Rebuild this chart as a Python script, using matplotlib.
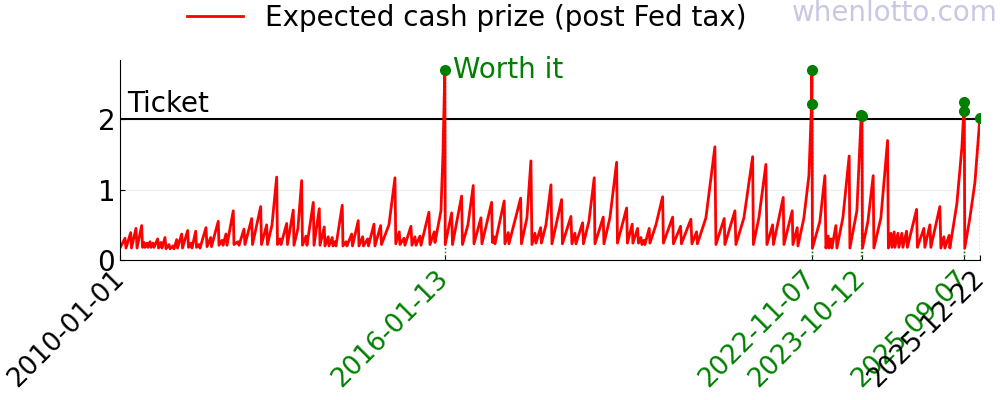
import datetime as dt
import matplotlib
matplotlib.use("Agg")
import matplotlib.pyplot as plt

# expected cash value per $2 ticket (decimal year, value)
years = [
    2010.000, 2010.093, 2010.111, 2010.199, 2010.214, 2010.297, 2010.316, 2010.403,
    2010.418, 2010.446, 2010.464, 2010.501, 2010.520, 2010.557, 2010.576, 2010.613,
    2010.631, 2010.700, 2010.715, 2010.761, 2010.780, 2010.836, 2010.854, 2010.910,
    2010.929, 2010.984, 2011.003, 2011.053, 2011.068, 2011.146, 2011.161, 2011.257,
    2011.272, 2011.318, 2011.337, 2011.406, 2011.421, 2011.467, 2011.486, 2011.597,
    2011.616, 2011.684, 2011.699, 2011.825, 2011.838, 2011.894, 2011.913, 2011.968,
    2011.987, 2012.104, 2012.117, 2012.191, 2012.210, 2012.303, 2012.321, 2012.446,
    2012.461, 2012.613, 2012.628, 2012.724, 2012.739, 2012.823, 2012.910, 2012.925,
    2012.971, 2012.990, 2013.096, 2013.111, 2013.218, 2013.231, 2013.305, 2013.374,
    2013.389, 2013.454, 2013.473, 2013.590, 2013.603, 2013.701, 2013.714, 2013.794,
    2013.807, 2013.868, 2013.881, 2013.942, 2013.955, 2013.993, 2014.011, 2014.128,
    2014.141, 2014.197, 2014.215, 2014.303, 2014.318, 2014.425, 2014.438, 2014.507,
    2014.522, 2014.600, 2014.615, 2014.717, 2014.735, 2014.841, 2014.856, 2014.995,
    2015.107, 2015.122, 2015.187, 2015.200, 2015.274, 2015.292, 2015.404, 2015.422,
    2015.478, 2015.497, 2015.571, 2015.590, 2015.738, 2015.757, 2015.837, 2015.850,
    2015.961, 2015.998, 2016.033, 2016.040, 2016.160, 2016.175, 2016.345, 2016.360,
    2016.462, 2016.561, 2016.574, 2016.704, 2016.722, 2016.902, 2016.917, 2016.945,
    2016.964, 2017.136, 2017.149, 2017.211, 2017.224, 2017.441, 2017.456, 2017.558,
    2017.632, 2017.651, 2017.707, 2017.725, 2017.813, 2017.827, 2017.911, 2018.004,
    2018.022, 2018.202, 2018.217, 2018.375, 2018.394, 2018.449, 2018.468, 2018.592,
    2018.607, 2018.709, 2018.808, 2018.821, 2018.975, 2018.988, 2019.099, 2019.224,
    2019.239, 2019.409, 2019.424, 2019.513, 2019.526, 2019.614, 2019.629, 2019.675,
    2019.694, 2019.731, 2019.749, 2019.829, 2019.842, 2019.954, 2020.078, 2020.093,
    2020.264, 2020.279, 2020.412, 2020.427, 2020.603, 2020.622, 2020.709, 2020.724,
    2020.882, 2021.049, 2021.068, 2021.222, 2021.235, 2021.421, 2021.439, 2021.588,
    2021.750, 2021.764, 2021.866, 2021.996, 2022.015, 2022.121, 2022.136, 2022.318,
    2022.331, 2022.485, 2022.498, 2022.578, 2022.591, 2022.702, 2022.795, 2022.844,
    2022.850, 2022.860, 2022.999, 2023.092, 2023.111, 2023.153, 2023.166, 2023.204,
    2023.222, 2023.296, 2023.315, 2023.426, 2023.543, 2023.556, 2023.686, 2023.766,
    2023.780, 2023.790, 2023.891, 2023.989, 2024.002, 2024.132, 2024.256, 2024.271,
    2024.318, 2024.336, 2024.379, 2024.392, 2024.448, 2024.466, 2024.522, 2024.540,
    2024.609, 2024.624, 2024.795, 2024.810, 2024.930, 2024.949, 2025.042, 2025.060,
    2025.227, 2025.246, 2025.302, 2025.320, 2025.400, 2025.413, 2025.543, 2025.636,
    2025.670, 2025.680, 2025.690, 2025.785, 2025.878, 2025.970,
]
values = [
    0.17, 0.31, 0.17, 0.39, 0.17, 0.45, 0.17, 0.49,
    0.18, 0.25, 0.18, 0.24, 0.18, 0.26, 0.18, 0.24,
    0.18, 0.30, 0.17, 0.25, 0.17, 0.32, 0.16, 0.22,
    0.16, 0.20, 0.16, 0.29, 0.17, 0.37, 0.17, 0.42,
    0.18, 0.24, 0.17, 0.41, 0.18, 0.22, 0.17, 0.46,
    0.19, 0.32, 0.19, 0.55, 0.21, 0.28, 0.21, 0.37,
    0.21, 0.70, 0.22, 0.26, 0.21, 0.44, 0.22, 0.59,
    0.22, 0.76, 0.22, 0.50, 0.22, 0.50, 1.18, 0.22,
    0.30, 0.22, 0.52, 0.22, 0.71, 0.21, 0.45, 1.13,
    0.21, 0.34, 0.21, 0.82, 0.21, 0.73, 0.21, 0.47,
    0.20, 0.33, 0.20, 0.32, 0.20, 0.26, 0.20, 0.78,
    0.20, 0.26, 0.20, 0.37, 0.20, 0.56, 0.20, 0.33,
    0.20, 0.30, 0.20, 0.51, 0.20, 0.49, 0.22, 0.50,
    1.17, 0.23, 0.40, 0.22, 0.31, 0.21, 0.48, 0.21,
    0.33, 0.21, 0.34, 0.21, 0.68, 0.22, 0.40, 0.25,
    0.70, 1.50, 2.71, 0.22, 0.67, 0.22, 0.91, 0.22,
    0.50, 1.06, 0.23, 0.60, 0.23, 0.82, 0.25, 0.33,
    0.23, 0.84, 0.23, 0.39, 0.23, 0.88, 0.23, 0.60,
    1.41, 0.22, 0.38, 0.24, 0.46, 0.24, 0.50, 1.07,
    0.23, 0.86, 0.23, 0.62, 0.23, 0.38, 0.23, 0.53,
    0.23, 0.55, 1.17, 0.23, 0.61, 0.23, 0.60, 1.39,
    0.24, 0.74, 0.24, 0.51, 0.24, 0.45, 0.24, 0.32,
    0.22, 0.28, 0.22, 0.45, 0.24, 0.50, 0.90, 0.24,
    0.61, 0.23, 0.48, 0.23, 0.58, 0.23, 0.40, 0.23,
    0.60, 1.61, 0.22, 0.59, 0.22, 0.70, 0.22, 0.60,
    1.47, 0.22, 0.60, 1.36, 0.22, 0.50, 0.22, 0.89,
    0.22, 0.70, 0.22, 0.46, 0.20, 0.60, 1.20, 2.22,
    2.70, 0.17, 0.55, 1.20, 0.17, 0.34, 0.17, 0.30,
    0.17, 0.49, 0.17, 0.60, 1.48, 0.17, 0.70, 2.06,
    2.05, 0.17, 0.55, 1.20, 0.17, 0.60, 1.70, 0.17,
    0.38, 0.18, 0.40, 0.18, 0.38, 0.18, 0.38, 0.18,
    0.41, 0.18, 0.72, 0.18, 0.45, 0.18, 0.50, 0.18,
    0.76, 0.17, 0.33, 0.17, 0.35, 0.17, 0.80, 1.60,
    2.12, 2.25, 0.17, 0.60, 1.10, 2.02,
]

# drawings where the expected value beat the ticket price
worth_dates = ["2016-01-13", "2022-11-05", "2022-11-07", "2023-10-07",
               "2023-10-12", "2025-09-03", "2025-09-07", "2025-12-22"]
worth_vals = [2.71, 2.22, 2.70, 2.06, 2.05, 2.12, 2.25, 2.02]

tick_dates = ["2010-01-01", "2016-01-13", "2022-11-07", "2023-10-12",
              "2025-09-07", "2025-12-22"]
tick_colors = ["black", "green", "green", "green", "green", "black"]
ticket_price = 2

start = dt.datetime(2010, 1, 1)
x = [start + dt.timedelta(days=(y - 2010) * 365.25) for y in years]
wx = [dt.datetime.strptime(d, "%Y-%m-%d") for d in worth_dates]
tx = [dt.datetime.strptime(d, "%Y-%m-%d") for d in tick_dates]

plt.rcParams["font.family"] = ["DejaVu Sans"]
fig = plt.figure(figsize=(10, 4), dpi=100)
ax = fig.add_axes([0.12, 0.35, 0.86, 0.50])

ax.grid(True, axis="y", color="#eeeeee", lw=1)
ax.set_axisbelow(True)
ax.vlines(wx, 0, worth_vals, colors="green", linestyles=":", lw=1, zorder=1)
ax.plot(x, values, "r-", lw=2, label="Expected cash prize (post Fed tax)", zorder=2)
ax.axhline(ticket_price, color="black", lw=1.5, zorder=1.5)
ax.plot(wx, worth_vals, "o", color="green", ms=7, zorder=3)

ax.text(dt.datetime(2010, 2, 20), 2.02, "Ticket", fontsize=20, va="bottom")
ax.annotate("Worth it", (wx[0], worth_vals[0]), xytext=(6, 0),
            textcoords="offset points", color="green", fontsize=20, va="center")

ax.set_xlim(tx[0], tx[-1])
ax.set_ylim(0, max(worth_vals) * 1.05)
ax.set_yticks([0, 1, 2])
ax.set_xticks(tx)
ax.set_xticklabels(tick_dates, rotation=45, ha="right", va="center",
                   rotation_mode="anchor")
for lab, c in zip(ax.get_xticklabels(), tick_colors):
    lab.set_color(c)
ax.tick_params(direction="in", labelsize=20)
ax.tick_params(axis="x", pad=11, labelsize=19)
ax.spines["top"].set_visible(False)
ax.spines["right"].set_visible(False)

fig.legend(loc="center", bbox_to_anchor=(0.467, 0.955), frameon=False, fontsize=20)
fig.text(0.998, 0.968, "whenlotto.com", ha="right", va="center",
         fontsize=20, color="#c8c8e4")

fig.savefig("out.png")
